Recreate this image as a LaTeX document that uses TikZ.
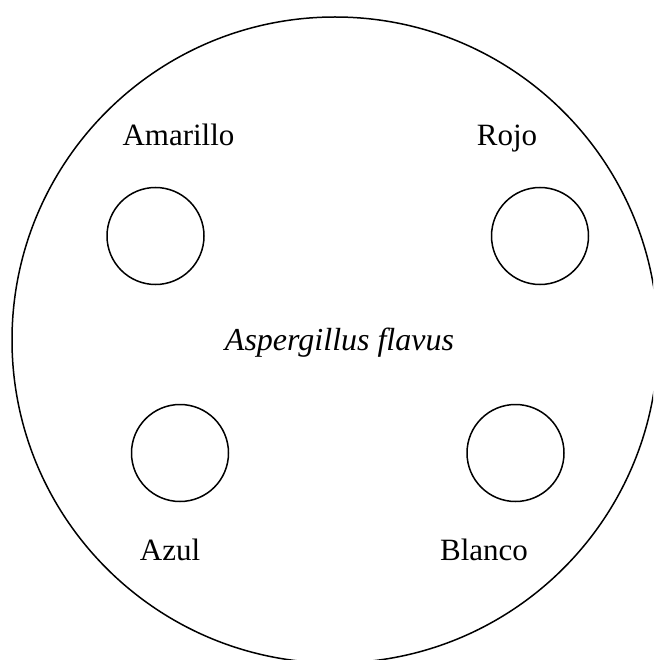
\documentclass[tikz,border=0pt]{standalone}
\usepackage{fontspec}
\setmainfont{Liberation Serif}
\begin{document}
\begin{tikzpicture}[x=1pt,y=-1pt,
  ring/.style={draw,line width=1.5pt},
  lbl/.style={anchor=base,inner sep=0pt,font=\fontsize{31}{37}\selectfont}]
\useasboundingbox (0,0) rectangle (653,660);
\clip (0,0) rectangle (653,660);
\draw[ring] (335,340) circle[radius=323];
\node[ring,circle,minimum size=97pt,inner sep=0pt] (c1) at (155.5,236) {};
\node[ring,circle,minimum size=97pt,inner sep=0pt] (c2) at (540,236) {};
\node[ring,circle,minimum size=97pt,inner sep=0pt] (c3) at (180,453) {};
\node[ring,circle,minimum size=97pt,inner sep=0pt] (c4) at (515.5,453) {};
\node[lbl] (t1) at (178.5,146) {Amarillo};
\node[lbl] (t2) at (507,146) {Rojo};
\node[lbl,font=\fontsize{32}{38}\selectfont\itshape] (t3) at (339.5,350) {Aspergillus flavus};
\node[lbl] (t4) at (170,560) {Azul};
\node[lbl] (t5) at (484,560) {Blanco};
\end{tikzpicture}
\end{document}
